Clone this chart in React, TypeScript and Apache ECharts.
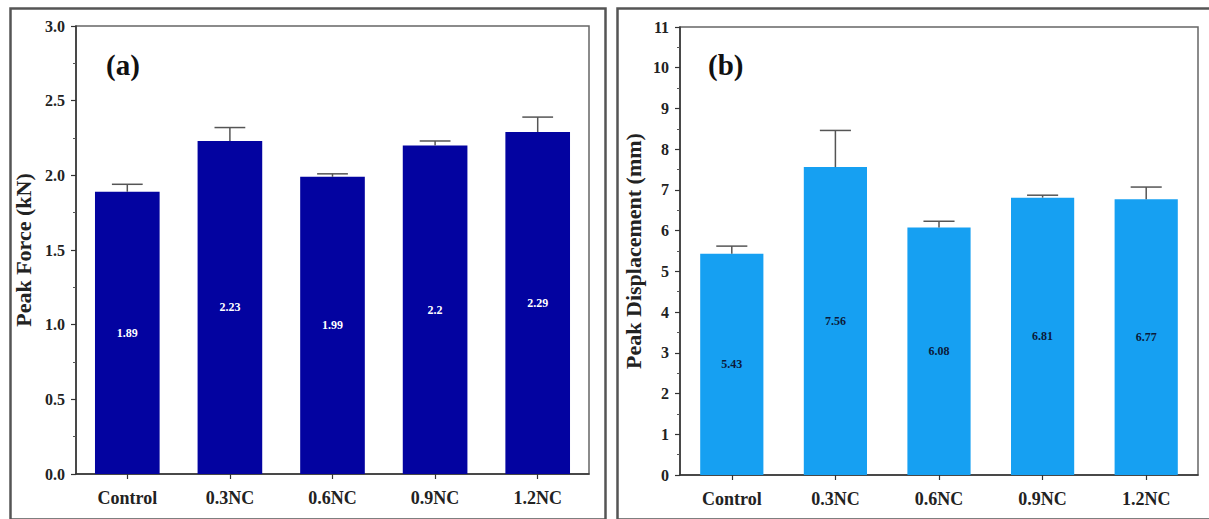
import React, { useEffect, useRef } from "react";
import * as echarts from "echarts";

const categories = ["Control", "0.3NC", "0.6NC", "0.9NC", "1.2NC"];
const forceValues = [1.89, 2.23, 1.99, 2.2, 2.29];
const forceErrors = [0.05, 0.09, 0.02, 0.03, 0.1];
const dispValues = [5.43, 7.56, 6.08, 6.81, 6.77];
const dispErrors = [0.19, 0.9, 0.15, 0.06, 0.3];

const SERIF = "Liberation Serif";

function errorSeries(values: number[], errors: number[], axisIndex: number) {
  return {
    type: "custom",
    xAxisIndex: axisIndex,
    yAxisIndex: axisIndex,
    z: 5,
    silent: true,
    data: values.map((v, i) => [i, v, v + errors[i]]),
    renderItem: (params: any, api: any) => {
      const x = api.value(0);
      const base = api.coord([x, api.value(1)]);
      const top = api.coord([x, api.value(2)]);
      const half = api.size([1, 0])[0] * 0.15;
      const style = { stroke: "#555", lineWidth: 1.5 };
      return {
        type: "group",
        children: [
          { type: "line", shape: { x1: base[0], y1: base[1], x2: top[0], y2: top[1] }, style },
          { type: "line", shape: { x1: top[0] - half, y1: top[1], x2: top[0] + half, y2: top[1] }, style },
        ],
      };
    },
  };
}

function yAxis(gridIndex: number, name: string, max: number, interval: number, fmt: (v: number) => string, gap: number) {
  return {
    type: "value",
    gridIndex,
    min: 0,
    max,
    interval,
    name,
    nameLocation: "middle",
    nameGap: gap,
    nameTextStyle: { fontFamily: SERIF, fontWeight: "bold", fontSize: 22, color: "#222" },
    axisLine: { show: true, lineStyle: { color: "#333", width: 1.5 } },
    axisTick: { show: true, length: 5, lineStyle: { color: "#333", width: 1.2 } },
    minorTick: { show: true, splitNumber: 2, length: 3, lineStyle: { color: "#555" } },
    splitLine: { show: false },
    axisLabel: { fontFamily: SERIF, fontWeight: "bold", fontSize: 16, color: "#222", margin: 11, formatter: fmt },
  };
}

function xAxis(gridIndex: number) {
  return {
    type: "category",
    gridIndex,
    data: categories,
    axisLine: { show: true, lineStyle: { color: "#333", width: 1.5 } },
    axisTick: { show: true, alignWithLabel: true, length: 5, lineStyle: { color: "#333", width: 1.2 } },
    axisLabel: { fontFamily: SERIF, fontWeight: "bold", fontSize: 18, color: "#222", margin: 15 },
  };
}

export default function App() {
  const ref = useRef<HTMLDivElement>(null);
  useEffect(() => {
    if (!ref.current) return;
    const chart = echarts.init(ref.current, undefined, { renderer: "svg" });
    chart.setOption({
      animation: false,
      backgroundColor: "#fff",
      grid: [
        { left: 76, top: 26, width: 513, height: 448, show: true, borderColor: "#666", borderWidth: 1.5, backgroundColor: "transparent" },
        { left: 680, top: 27, width: 518, height: 448, show: true, borderColor: "#666", borderWidth: 1.5, backgroundColor: "transparent" },
      ],
      xAxis: [xAxis(0), xAxis(1)],
      yAxis: [
        yAxis(0, "Peak Force (kN)", 3, 0.5, (v: number) => v.toFixed(1), 42),
        yAxis(1, "Peak Displacement (mm)", 11, 1, (v: number) => String(v), 36),
      ],
      series: [
        {
          type: "bar",
          xAxisIndex: 0,
          yAxisIndex: 0,
          data: forceValues,
          barCategoryGap: "37%",
          itemStyle: { color: "#0303a0" },
          label: {
            show: true,
            position: "inside",
            color: "#fff",
            fontFamily: SERIF,
            fontWeight: "bold",
            fontSize: 12,
            formatter: (p: any) => String(p.value),
          },
        },
        errorSeries(forceValues, forceErrors, 0),
        {
          type: "bar",
          xAxisIndex: 1,
          yAxisIndex: 1,
          data: dispValues,
          barCategoryGap: "39%",
          itemStyle: { color: "#16a0f2" },
          label: {
            show: true,
            position: "inside",
            color: "#0b1a3a",
            fontFamily: SERIF,
            fontWeight: "bold",
            fontSize: 12,
            formatter: (p: any) => p.value.toFixed(2),
          },
        },
        errorSeries(dispValues, dispErrors, 1),
      ],
      graphic: [
        { type: "rect", left: 8, top: 6, shape: { width: 595, height: 511 }, style: { fill: "none", stroke: "#555", lineWidth: 2.5 }, z: 10 },
        { type: "rect", left: 615, top: 6, shape: { width: 593, height: 511 }, style: { fill: "none", stroke: "#555", lineWidth: 2.5 }, z: 10 },
        { type: "text", left: 106, top: 50, style: { text: "(a)", fontFamily: SERIF, fontWeight: "bold", fontSize: 29, fill: "#111" }, z: 10 },
        { type: "text", left: 708, top: 50, style: { text: "(b)", fontFamily: SERIF, fontWeight: "bold", fontSize: 29, fill: "#111" }, z: 10 },
      ],
    });
    return () => chart.dispose();
  }, []);
  return <div ref={ref} style={{ position: "fixed", left: 0, top: 0, width: 1209, height: 519 }} />;
}
